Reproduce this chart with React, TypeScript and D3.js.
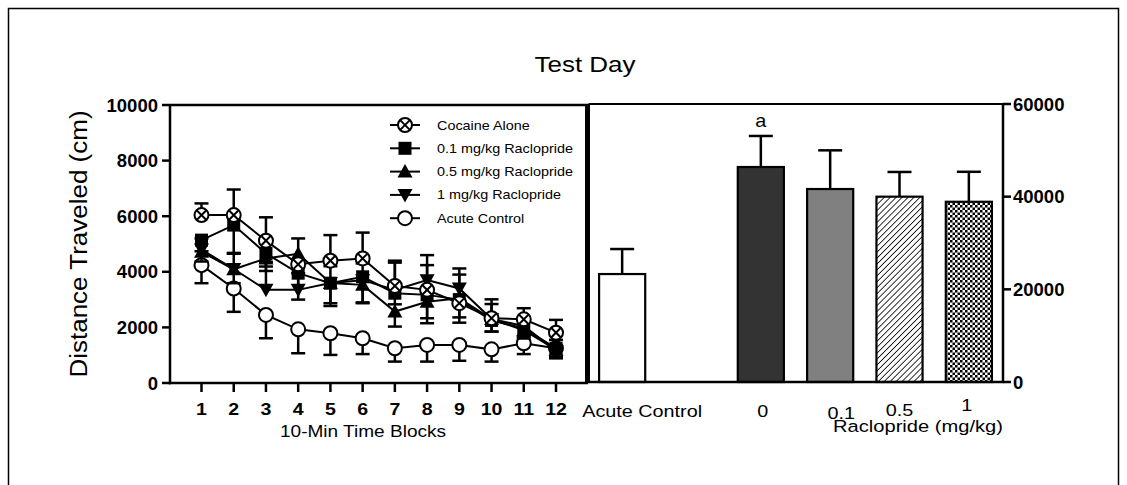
import React from 'react';
import * as d3 from 'd3';

// ---------- data ----------
const blocks = [1, 2, 3, 4, 5, 6, 7, 8, 9, 10, 11, 12];
const seriesNames = ['Cocaine Alone', '0.1 mg/kg Raclopride', '0.5 mg/kg Raclopride', '1 mg/kg Raclopride', 'Acute Control'];
const cocaineAlone = [6040, 6040, 5120, 4270, 4400, 4480, 3490, 3350, 2870, 2330, 2290, 1810];
const cocaineAloneErr = [420, 920, 840, 930, 920, 930, 910, 890, 1250, 680, 400, 460];
const raclo01 = [5140, 5680, 4660, 3950, 3590, 3820, 3230, 3170, 3000, 2250, 1970, 1250];
const raclo01Err = [400, 1000, 630, 950, 720, 950, 400, 840, 640, 400, 300, 360];
const raclo05 = [4720, 4090, 4480, 4650, 3600, 3530, 2570, 2920, 3050, 2300, 1900, 1200];
const raclo05Err = [350, 500, 290, 500, 830, 630, 540, 770, 880, 450, 300, 300];
const raclo1 = [4800, 4100, 3350, 3350, 3600, 3700, 3350, 3700, 3400, 2300, 2050, 1150];
const raclo1Err = [400, 550, 1010, 600, 600, 600, 980, 900, 500, 540, 300, 400];
const acuteControl = [4240, 3400, 2450, 1930, 1790, 1610, 1250, 1370, 1370, 1210, 1430, 1250];
const acuteControlErr = [650, 840, 840, 860, 780, 570, 480, 600, 570, 440, 390, 300];
const leftTicks = [0, 2000, 4000, 6000, 8000, 10000];

const barCategories = ['Acute Control', '0', '0.1', '0.5', '1'];
const barValues = [23300, 46400, 41650, 40000, 38900];
const barErrors = [5400, 6700, 8350, 5330, 6470];
const rightTicks = [0, 20000, 40000, 60000];

// ---------- styles ----------
const FONT = 'Arial, "Liberation Sans", Helvetica, sans-serif';
const barFills = ['#ffffff', '#333333', '#808080', 'url(#hatch)', 'url(#checker)'];
const barLabelDx = [20, 2, 11, 0, -2];
const barLabelY = [417, 417, 419, 416, 411];
const seriesMarkers = ['xcircle', 'square', 'tri-up', 'tri-down', 'circle'];
const seriesErrDir = [1, -1, -1, 1, -1];

const W = 1127, H = 485;

function Marker({ type, x, y }: { type: string; x: number; y: number }) {
  const s = 7.5;
  if (type === 'circle') return <circle cx={x} cy={y} r={7} fill="#fff" stroke="#000" strokeWidth={2} />;
  if (type === 'xcircle') {
    const d = 4.6;
    return (
      <g>
        <circle cx={x} cy={y} r={7} fill="#fff" stroke="#000" strokeWidth={2} />
        <line x1={x - d} y1={y - d} x2={x + d} y2={y + d} stroke="#000" strokeWidth={2} />
        <line x1={x - d} y1={y + d} x2={x + d} y2={y - d} stroke="#000" strokeWidth={2} />
      </g>
    );
  }
  if (type === 'square') return <rect x={x - 6.5} y={y - 6.5} width={13} height={13} fill="#000" />;
  if (type === 'tri-up') return <path d={`M${x},${y - s}L${x + s},${y + s * 0.8}L${x - s},${y + s * 0.8}Z`} fill="#000" />;
  return <path d={`M${x},${y + s}L${x + s},${y - s * 0.8}L${x - s},${y - s * 0.8}Z`} fill="#000" />;
}

function SText({ x, y, sx = 1, size, weight = 'normal', anchor = 'middle', rotate = 0, children }: any) {
  return (
    <text
      transform={`translate(${x},${y}) rotate(${rotate}) scale(${sx},1)`}
      fontFamily={FONT}
      fontSize={size}
      fontWeight={weight}
      textAnchor={anchor}
      fill="#000"
    >
      {children}
    </text>
  );
}

export default function App() {
  // left panel
  const x = d3.scaleLinear().domain([1, 12]).range([201.5, 556]);
  const y = d3.scaleLinear().domain([0, 10000]).range([383, 105]);
  const series = [
    { v: cocaineAlone, e: cocaineAloneErr },
    { v: raclo01, e: raclo01Err },
    { v: raclo05, e: raclo05Err },
    { v: raclo1, e: raclo1Err },
    { v: acuteControl, e: acuteControlErr },
  ];
  const line = d3.line<number>().x((_, i) => x(blocks[i])).y((d) => y(d));
  const drawOrder = [4, 3, 2, 1, 0];

  // right panel
  const xb = d3
    .scaleBand<string>()
    .domain([barCategories[0], ' ', ...barCategories.slice(1)])
    .range([588, 1003])
    .paddingInner(0.335)
    .paddingOuter(0.16);
  const yb = d3.scaleLinear().domain([0, 60000]).range([382, 104]);

  const legendY0 = 125, legendStep = 23.3;

  return (
    <svg width={W} height={H} style={{ position: 'absolute', left: 0, top: 0, background: '#fff' }}>
      <defs>
        <pattern id="hatch" patternUnits="userSpaceOnUse" width={4.2} height={4.2} patternTransform="rotate(45)">
          <rect width={4.2} height={4.2} fill="#fff" />
          <line x1={0} y1={0} x2={0} y2={4.2} stroke="#000" strokeWidth={1.6} />
        </pattern>
        <pattern id="checker" patternUnits="userSpaceOnUse" width={5} height={5}>
          <rect width={5} height={5} fill="#fff" />
          <rect width={2.5} height={2.5} fill="#000" />
          <rect x={2.5} y={2.5} width={2.5} height={2.5} fill="#000" />
        </pattern>
      </defs>
      <rect x={0} y={0} width={W} height={H} fill="#fff" />
      {/* outer frame */}
      <rect x={8.5} y={8.5} width={1110} height={520} fill="none" stroke="#000" strokeWidth={1.5} />

      <SText x={585} y={72} size={22} sx={1.18}>Test Day</SText>

      {/* left panel frame */}
      <line x1={170} y1={105} x2={588} y2={105} stroke="#000" strokeWidth={2.5} />
      <line x1={586.5} y1={105} x2={586.5} y2={384} stroke="#000" strokeWidth={3} />
      <line x1={170} y1={104} x2={170} y2={384.2} stroke="#000" strokeWidth={2.5} />
      <line x1={168.8} y1={383} x2={588} y2={383} stroke="#000" strokeWidth={2.5} />
      {leftTicks.map((t) => (
        <g key={t}>
          <line x1={162} y1={y(t)} x2={170} y2={y(t)} stroke="#000" strokeWidth={2.5} />
          <SText x={158} y={y(t) + 6.5} size={18.5} weight="bold" anchor="end">{t}</SText>
        </g>
      ))}
      {blocks.map((b) => (
        <g key={b}>
          <line x1={x(b)} y1={383} x2={x(b)} y2={392} stroke="#000" strokeWidth={2.5} />
          <SText x={x(b)} y={415} size={17} sx={1.15} weight="bold">{b}</SText>
        </g>
      ))}
      <SText x={363} y={437} size={16} sx={1.19}>10-Min Time Blocks</SText>
      <SText x={87} y={244} size={23} sx={1.13} rotate={-90}>Distance Traveled (cm)</SText>

      {/* series */}
      {drawOrder.map((si) => {
        const s = series[si];
        const dir = seriesErrDir[si];
        return (
          <g key={si}>
            <path d={line(s.v) || ''} fill="none" stroke="#000" strokeWidth={2} />
            {s.v.map((v, i) => {
              const yy = y(v + dir * s.e[i]);
              return (
                <g key={i}>
                  <line x1={x(blocks[i])} y1={y(v)} x2={x(blocks[i])} y2={yy} stroke="#000" strokeWidth={2.5} />
                  <line x1={x(blocks[i]) - 7} y1={yy} x2={x(blocks[i]) + 7} y2={yy} stroke="#000" strokeWidth={2.5} />
                </g>
              );
            })}
            {s.v.map((v, i) => (
              <Marker key={'m' + i} type={seriesMarkers[si]} x={x(blocks[i])} y={y(v)} />
            ))}
          </g>
        );
      })}

      {/* legend */}
      {seriesNames.map((n, i) => {
        const ly = legendY0 + i * legendStep;
        return (
          <g key={n}>
            <line x1={390} y1={ly} x2={420} y2={ly} stroke="#000" strokeWidth={2} />
            <Marker type={seriesMarkers[i]} x={405} y={ly} />
            <SText x={437} y={ly + 4.5} size={12} sx={1.2} anchor="start">{n}</SText>
          </g>
        );
      })}

      {/* right panel */}
      {barCategories.map((c, i) => {
        const bx = xb(c)!;
        const bw = xb.bandwidth();
        const cx = bx + bw / 2;
        const top = yb(barValues[i]);
        const et = yb(barValues[i] + barErrors[i]);
        return (
          <g key={c}>
            <line x1={cx} y1={top} x2={cx} y2={et} stroke="#000" strokeWidth={2.5} />
            <line x1={cx - 12} y1={et} x2={cx + 12} y2={et} stroke="#000" strokeWidth={2.5} />
            <rect x={bx} y={top} width={bw} height={yb(0) - top} fill={barFills[i]} stroke="#000" strokeWidth={2.2} />
            <SText x={cx + barLabelDx[i]} y={barLabelY[i]} size={16.5} sx={1.2}>{c}</SText>
          </g>
        );
      })}
      <SText x={xb('0')! + xb.bandwidth() / 2} y={yb(barValues[1] + barErrors[1]) - 9} size={18} sx={1.1}>a</SText>
      <SText x={918} y={432} size={16.5} sx={1.22}>Raclopride (mg/kg)</SText>

      <line x1={588.5} y1={104} x2={1003} y2={104} stroke="#000" strokeWidth={2} />
      <line x1={589} y1={104} x2={589} y2={383} stroke="#000" strokeWidth={2} />
      <line x1={588} y1={382} x2={1004} y2={382} stroke="#000" strokeWidth={2.5} />
      <line x1={1003} y1={103} x2={1003} y2={383} stroke="#000" strokeWidth={2.5} />
      {rightTicks.map((t) => (
        <g key={t}>
          <line x1={1003} y1={yb(t)} x2={1011} y2={yb(t)} stroke="#000" strokeWidth={2.5} />
          <SText x={1013} y={yb(t) + 6.5} size={18.5} weight="bold" anchor="start">{t}</SText>
        </g>
      ))}
    </svg>
  );
}
